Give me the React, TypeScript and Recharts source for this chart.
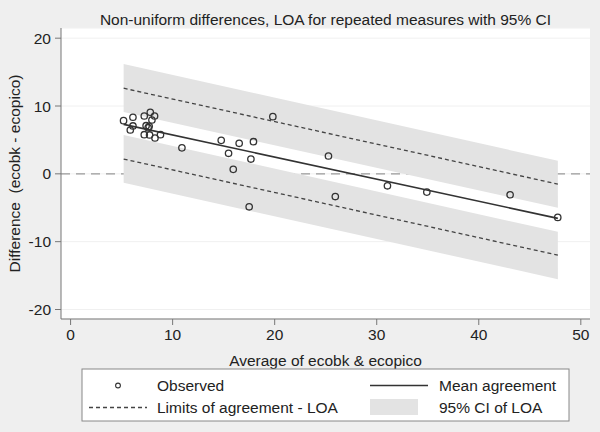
import React from 'react';
import { ComposedChart, XAxis, YAxis, CartesianGrid, Line, Area, Scatter } from 'recharts';

// Straight-line fits (endpoints)
const lineX = [5.2, 47.75];
const meanAgreement = [7.29, -6.57];
const loaUpper = [12.62, -1.51];
const loaLower = [2.18, -11.99];
const ciUpperHigh = [16.2, 1.93];
const ciUpperLow = [9.12, -5.0];
const ciLowerHigh = [5.73, -8.55];
const ciLowerLow = [-1.31, -15.53];

// Observed points
const obsX = [5.19, 6.11, 5.85, 6.11, 7.22, 7.81, 8.23, 7.97, 7.4, 7.6, 7.7, 7.22, 7.74, 8.27, 8.81, 10.91, 14.76, 15.48, 15.94, 16.52, 17.67, 17.92, 17.5, 19.82, 25.27, 25.94, 31.05, 34.91, 43.07, 47.74];
const obsY = [7.84, 8.34, 6.46, 7.06, 8.53, 9.08, 8.53, 7.94, 7.1, 6.8, 7.0, 5.77, 5.73, 5.28, 5.77, 3.83, 4.94, 3.03, 0.66, 4.5, 2.18, 4.74, -4.86, 8.43, 2.63, -3.35, -1.76, -2.69, -3.08, -6.42];

const xTicks = [0, 10, 20, 30, 40, 50];
const yTicks = [-20, -10, 0, 10, 20];
const xDomain = [-0.94, 50.9];
const yDomain = [-21.4, 21.5];

const title = 'Non-uniform differences, LOA for repeated measures with 95% CI';
const xLabel = 'Average of ecobk & ecopico';
const yLabel = 'Difference  (ecobk - ecopico)';
const legendLabels = ['Observed', 'Mean agreement', 'Limits of agreement - LOA', '95% CI of LOA'];

const rows: any[] = [
  { x: xDomain[0], zero: 0 },
  ...lineX.map((x, i) => ({
    x,
    zero: 0,
    mean: meanAgreement[i],
    loaU: loaUpper[i],
    loaL: loaLower[i],
    bandU: [ciUpperLow[i], ciUpperHigh[i]],
    bandL: [ciLowerLow[i], ciLowerHigh[i]],
  })),
  { x: xDomain[1], zero: 0 },
];

const obs = obsX.map((x, i) => ({ x, y: obsY[i] }));

const FONT = '"Liberation Sans", Arial, Helvetica, sans-serif';
const BG = '#efefef';
const BAND = '#e3e3e3';
const INK = '#333333';

const Marker = (p: any) => (
  <circle cx={p.cx} cy={p.cy} r={3.2} fill="none" stroke={INK} strokeWidth={1.3} />
);

export default function App() {
  return (
    <div style={{ position: 'absolute', left: 0, top: 0, width: 600, height: 432, background: BG, fontFamily: FONT }}>
      <ComposedChart width={600} height={432} data={rows} margin={{ top: 28, right: 10, bottom: 63, left: 0 }}>
        <CartesianGrid vertical={false} stroke="#f0f0f0" fill="#ffffff" />
        <XAxis
          type="number"
          dataKey="x"
          domain={xDomain}
          ticks={xTicks}
          interval={0}
          allowDataOverflow
          height={50}
          tickSize={6}
          tickMargin={4}
          stroke="#777"
          tick={{ fill: '#222', fontSize: 15.5, fontFamily: FONT }}
        />
        <YAxis
          type="number"
          domain={yDomain}
          ticks={yTicks}
          interval={0}
          allowDataOverflow
          width={61}
          tickSize={6}
          tickMargin={4}
          stroke="#777"
          tick={{ fill: '#222', fontSize: 15.5, fontFamily: FONT }}
        />
        <Area dataKey="zero" type="linear" baseValue={0} fill="none" stroke="#999" strokeWidth={1.3} strokeDasharray="9 6" isAnimationActive={false} activeDot={false} />
        <Area dataKey="bandU" type="linear" fill={BAND} fillOpacity={1} stroke="none" isAnimationActive={false} activeDot={false} />
        <Area dataKey="bandL" type="linear" fill={BAND} fillOpacity={1} stroke="none" isAnimationActive={false} activeDot={false} />
        <Line dataKey="loaU" type="linear" stroke="#444" strokeWidth={1.3} strokeDasharray="4 3" dot={false} activeDot={false} isAnimationActive={false} />
        <Line dataKey="loaL" type="linear" stroke="#444" strokeWidth={1.3} strokeDasharray="4 3" dot={false} activeDot={false} isAnimationActive={false} />
        <Line dataKey="mean" type="linear" stroke={INK} strokeWidth={1.6} dot={false} activeDot={false} isAnimationActive={false} />
        <Scatter data={obs} dataKey="y" shape={Marker} isAnimationActive={false} />
      </ComposedChart>
      <svg width={600} height={432} style={{ position: 'absolute', left: 0, top: 0, pointerEvents: 'none' }}>
        <text x={325.5} y={25} textAnchor="middle" fontSize={15.5} fill="#222" fontFamily={FONT}>{title}</text>
        <text x={325.5} y={366} textAnchor="middle" fontSize={15.5} fill="#222" fontFamily={FONT}>{xLabel}</text>
        <text
          x={0}
          y={0}
          transform="translate(19.5,173.5) rotate(-90)"
          textAnchor="middle"
          fontSize={15.5}
          fill="#222"
          fontFamily={FONT}
          style={{ whiteSpace: 'pre' }}
        >
          {yLabel}
        </text>
        <rect x={82} y={369} width={487} height={52} fill="#fff" stroke="#888" strokeWidth={1} />
        <circle cx={118} cy={385.5} r={2.4} fill="none" stroke={INK} strokeWidth={1.1} />
        <text x={157} y={391} fontSize={15.5} fill="#222" fontFamily={FONT}>{legendLabels[0]}</text>
        <line x1={370} y1={385.5} x2={428} y2={385.5} stroke={INK} strokeWidth={1.6} />
        <text x={439} y={391} fontSize={15.5} fill="#222" fontFamily={FONT}>{legendLabels[1]}</text>
        <line x1={89} y1={407.5} x2={147} y2={407.5} stroke="#444" strokeWidth={1.3} strokeDasharray="4 3" />
        <text x={157} y={413} fontSize={15.5} fill="#222" fontFamily={FONT}>{legendLabels[2]}</text>
        <rect x={370} y={399} width={48} height={16} fill={BAND} />
        <text x={439} y={413} fontSize={15.5} fill="#222" fontFamily={FONT}>{legendLabels[3]}</text>
      </svg>
    </div>
  );
}
